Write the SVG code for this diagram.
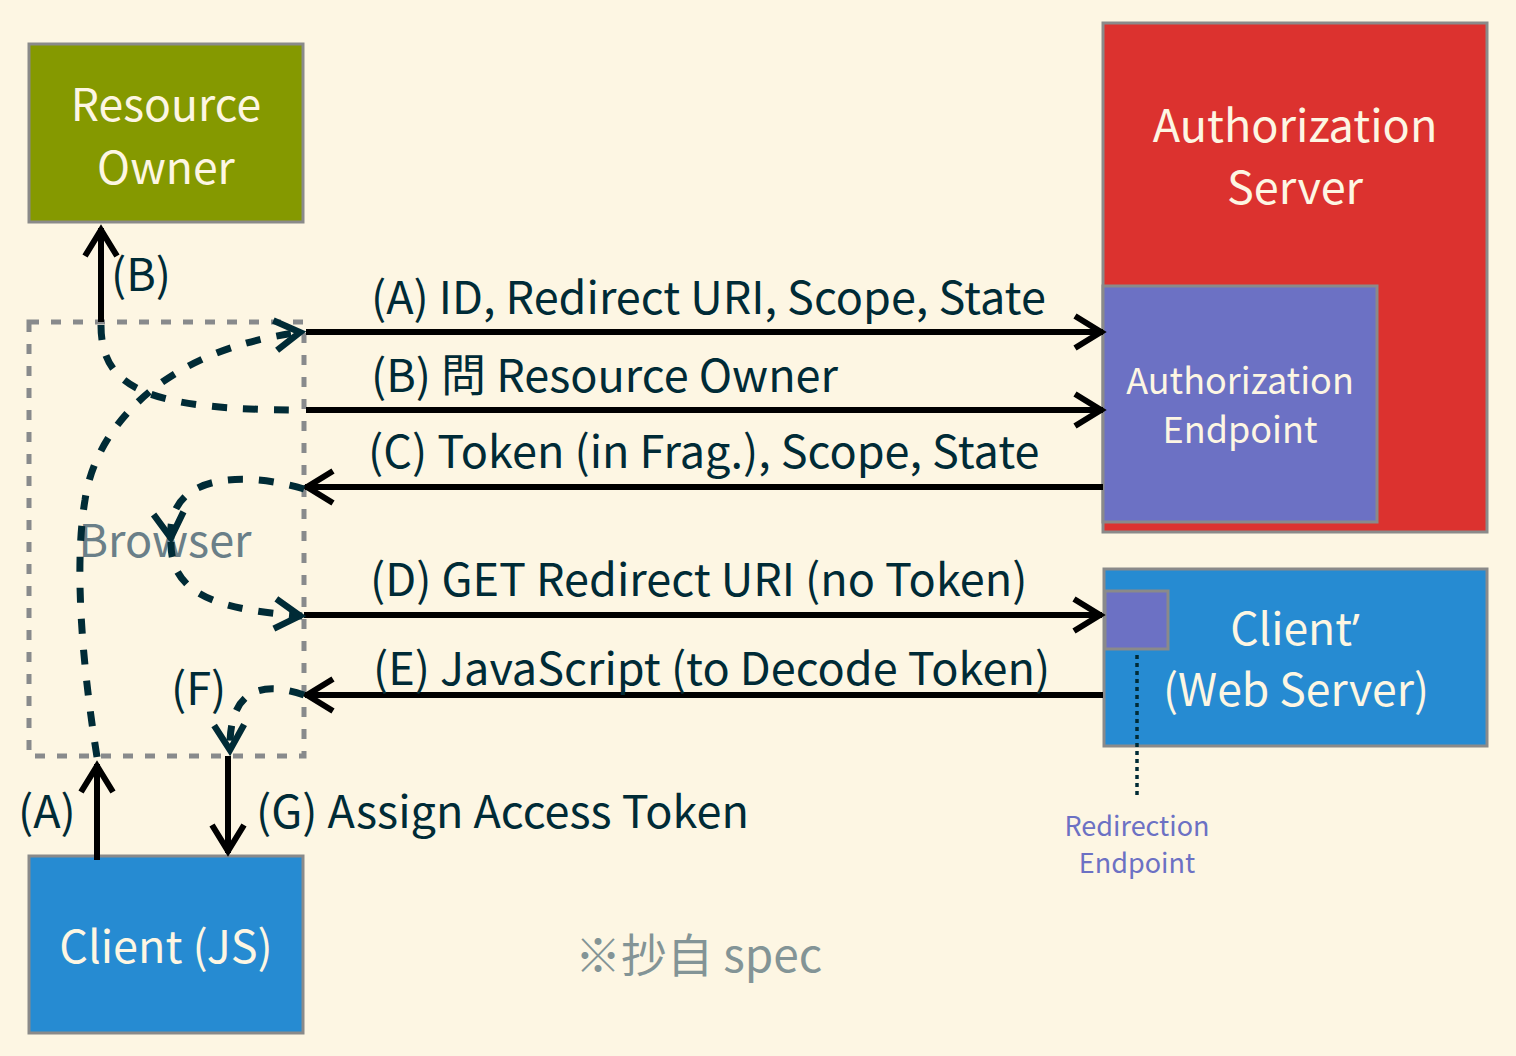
<svg xmlns="http://www.w3.org/2000/svg" width="1516" height="1056" viewBox="0 0 1516 1056">
<style>
text{font-family:"Noto Sans CJK SC","Noto Sans",sans-serif}
.node{stroke:#8a8a8a;stroke-width:3}
.ntxt{fill:#fdf6e3;text-anchor:middle}
.lbl{fill:#002b36;font-size:45px}
.solid{stroke:#000;stroke-width:6;fill:none}
.dash{stroke:#002b36;stroke-width:7;fill:none;stroke-dasharray:15 16}
.q{font-family:"Noto Sans","Open Sans",sans-serif}
</style>
<defs>
<marker id="ah" viewBox="-40 -25 50 50" refX="2" refY="0" markerWidth="50" markerHeight="50" markerUnits="userSpaceOnUse" orient="auto">
<path d="M-26,-16 L0,0 L-26,16" fill="none" stroke="#000" stroke-width="6"/>
</marker>
<marker id="ahd" viewBox="-40 -25 50 50" refX="2" refY="0" markerWidth="50" markerHeight="50" markerUnits="userSpaceOnUse" orient="auto">
<path d="M-25,-15 L0,0 L-25,15" fill="none" stroke="#002b36" stroke-width="6.5"/>
</marker>
</defs>
<rect width="1516" height="1056" fill="#fdf6e3"/>

<g id="browser">
<rect x="29" y="322" width="275" height="434" fill="none" stroke="#888a8c" stroke-width="5" stroke-dasharray="10 12"/>
<text x="165" y="557" text-anchor="middle" font-size="45" fill="#6a7f88">Browser</text>
</g>

<g id="resource-owner">
<rect class="node" x="29" y="44" width="274" height="178" fill="#859900"/>
<text class="ntxt" x="166" y="121" font-size="44.5">Resource</text>
<text class="ntxt" x="166" y="184" font-size="44.5">Owner</text>
</g>

<g id="authorization-server">
<rect class="node" x="1103" y="23" width="384" height="509" fill="#dc322f"/>
<text class="ntxt" x="1295" y="142" font-size="45">Authorization</text>
<text class="ntxt" x="1295" y="204" font-size="45">Server</text>
</g>

<g id="authorization-endpoint">
<rect class="node" x="1103" y="286" width="274" height="236" fill="#6c71c4"/>
<text class="ntxt" x="1240" y="394" font-size="36">Authorization</text>
<text class="ntxt" x="1240" y="443" font-size="36">Endpoint</text>
</g>

<g id="client-web">
<rect class="node" x="1104" y="569" width="383" height="177" fill="#268bd2"/>
<text class="ntxt" x="1295" y="645" font-size="44.5">Client<tspan class="q">’</tspan></text>
<text class="ntxt" x="1296" y="706" font-size="44.5">(Web Server)</text>
</g>

<g id="redirection-endpoint">
<rect class="node" x="1105" y="591" width="63" height="58" fill="#6c71c4"/>
<line x1="1137" y1="655" x2="1137" y2="797" stroke="#002b36" stroke-width="3.5" stroke-dasharray="4 4"/>
<text x="1137" y="836" text-anchor="middle" font-size="27" fill="#6c71c4">Redirection</text>
<text x="1137" y="873" text-anchor="middle" font-size="27" fill="#6c71c4">Endpoint</text>
</g>

<g id="client-js">
<rect class="node" x="29" y="856" width="274" height="177" fill="#268bd2"/>
<text class="ntxt" x="166" y="963" font-size="45">Client (JS)</text>
</g>

<g id="connectors">
<line class="solid" x1="306" y1="332" x2="1103" y2="332" marker-end="url(#ah)"/>
<line class="solid" x1="306" y1="410" x2="1103" y2="410" marker-end="url(#ah)"/>
<line class="solid" x1="1103" y1="487" x2="305" y2="487" marker-end="url(#ah)"/>
<line class="solid" x1="304" y1="615" x2="1102" y2="615" marker-end="url(#ah)"/>
<line class="solid" x1="1103" y1="695" x2="305" y2="695" marker-end="url(#ah)"/>
<line class="solid" x1="101" y1="322" x2="101" y2="228" marker-end="url(#ah)"/>
<line class="solid" x1="97" y1="860" x2="97" y2="764" marker-end="url(#ah)"/>
<line class="solid" x1="228" y1="756" x2="228" y2="853" marker-end="url(#ah)"/>

<path class="dash" d="M97,757 C80,650 75,560 85,500 C95,430 160,350 302,332" marker-end="url(#ahd)"/>
<path class="dash" d="M101,325 C101,390 150,410 304,410"/>
<path class="dash" d="M304,489 C240,470 165,475 171,540" marker-end="url(#ahd)"/>
<path class="dash" d="M171,542 C170,600 230,610 302,616" marker-end="url(#ahd)"/>
<path class="dash" d="M304,695 C260,680 228,690 230,752" marker-end="url(#ahd)"/>

<text class="lbl" x="371" y="314">(A) ID, Redirect URI, Scope, State</text>
<text class="lbl" x="371" y="392">(B) 問 Resource Owner</text>
<text class="lbl" x="368" y="468">(C) Token (in Frag.), Scope, State</text>
<text class="lbl" x="370" y="596">(D) GET Redirect URI (no Token)</text>
<text class="lbl" x="373" y="685">(E) JavaScript (to Decode Token)</text>
<text class="lbl" x="111" y="291">(B)</text>
<text class="lbl" x="171" y="705">(F)</text>
<text class="lbl" x="18" y="828">(A)</text>
<text class="lbl" x="256" y="828">(G) Assign Access Token</text>
</g>

<text x="575" y="972" font-size="46" fill="#839496">※抄自 spec</text>
</svg>
